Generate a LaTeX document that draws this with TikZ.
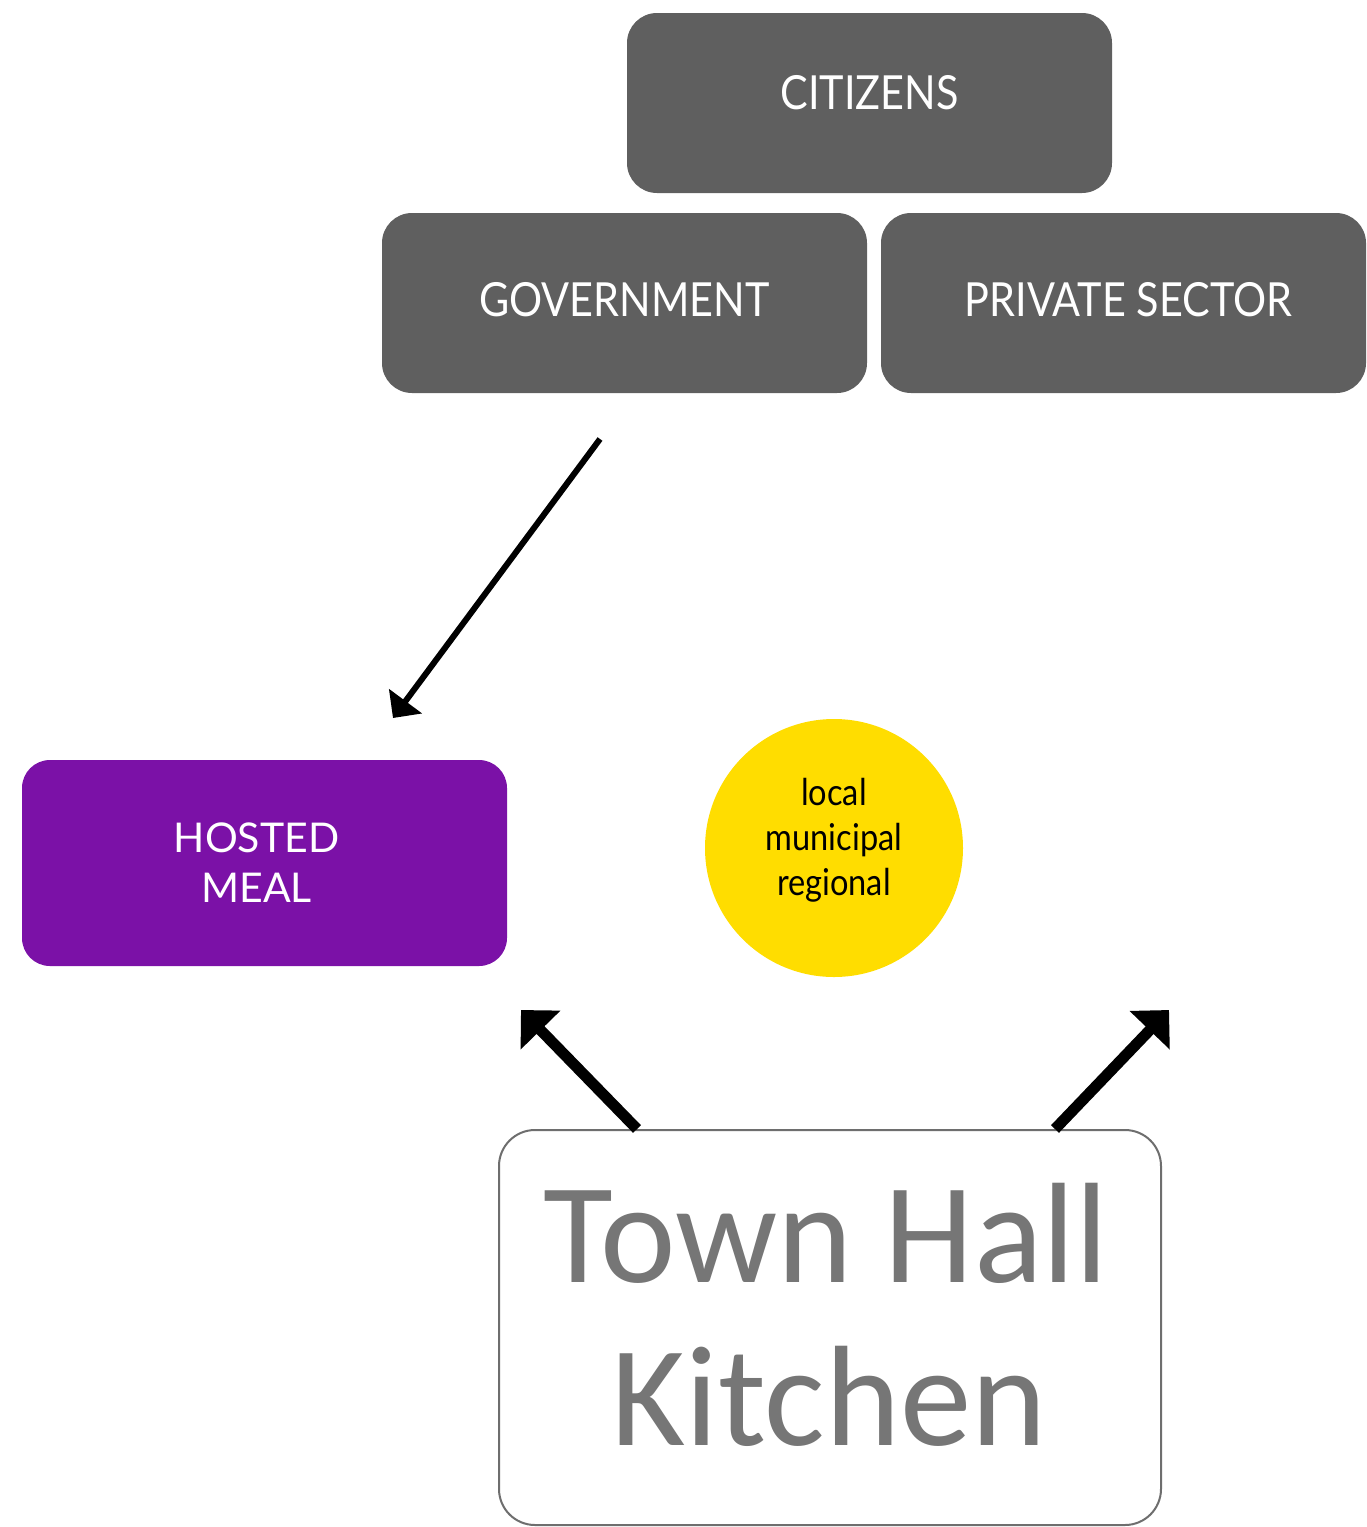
\documentclass[tikz,border=0pt]{standalone}
\usepackage{fontspec}
\setmainfont{Lato}
\newfontfamily\gill[FakeStretch=0.88]{Lato}
\newfontfamily\calibri{Carlito}
\usetikzlibrary{arrows.meta}
\definecolor{boxgray}{HTML}{5F5F5F}
\definecolor{mealpurple}{HTML}{7B11A7}
\definecolor{sunyellow}{HTML}{FFDD00}
\definecolor{kitchengray}{HTML}{767676}
\definecolor{kitchenborder}{HTML}{6E6E6E}
\tikzset{
  graybox/.style={draw=none, fill=boxgray, rounded corners=30pt, minimum width=485pt, minimum height=180pt, inner sep=0pt},
  graytext/.style={text=white, inner sep=0pt, font=\gill\fontsize{47}{56}\selectfont},
  mealbox/.style={draw=none, fill=mealpurple, rounded corners=28pt, minimum width=485pt, minimum height=206pt, inner sep=0pt},
  mealtext/.style={text=white, inner sep=0pt, align=center, font=\fontsize{41}{50}\selectfont},
  sun/.style={circle, fill=sunyellow, minimum size=258pt, inner sep=0pt},
  suntext/.style={inner sep=0pt, align=center, font=\gill\fontsize{37}{45}\selectfont},
  kitchenbox/.style={draw=kitchenborder, line width=2pt, fill=white, rounded corners=36pt, minimum width=662pt, minimum height=395pt, inner sep=0pt},
  kitchentext/.style={anchor=base, text=kitchengray, inner sep=0pt, font=\calibri\fontsize{143}{163}\selectfont},
  thinarrow/.style={line width=6pt, -{Triangle[length=21pt,width=40pt]}},
  thickarrow/.style={line width=11pt, -{Triangle[length=28pt,width=54pt]}}
}
\begin{document}
\begin{tikzpicture}[x=1pt,y=-1pt]
\useasboundingbox (0,0) rectangle (1367,1527);
\node[graybox, label={[graytext, yshift=10pt]center:CITIZENS}] (cit) at (869.5,103) {};
\node[graybox, label={[graytext, yshift=3.5pt]center:GOVERNMENT}] (gov) at (624.5,303) {};
\node[graybox, label={[graytext, xshift=5pt, yshift=3.5pt]center:PRIVATE SECTOR}] (priv) at (1123.5,303) {};
\node[mealbox, label={[mealtext, xshift=-8pt, yshift=0.5pt]center:{HOSTED\\MEAL}}] (meal) at (264.5,863) {};
\node[sun, label={[suntext, yshift=8pt]center:{local\\municipal\\regional}}] (circ) at (834,848) {};
\node[kitchenbox] (th) at (830,1327.5) {};
\node[kitchentext] (thl1) at (826,1282) {Town Hall};
\node[kitchentext] (thl2) at (829,1445) {Kitchen};
\coordinate (govout) at (600,439);
\coordinate (mealin) at (393,718);
\coordinate (lefttip) at (521,1010);
\coordinate (righttip) at (1169,1010);
\draw[thinarrow] (govout) -- (mealin);
\draw[thickarrow] ([xshift=139pt]th.north west) -- (lefttip);
\draw[thickarrow] ([xshift=-107pt]th.north east) -- (righttip);
\end{tikzpicture}
\end{document}
